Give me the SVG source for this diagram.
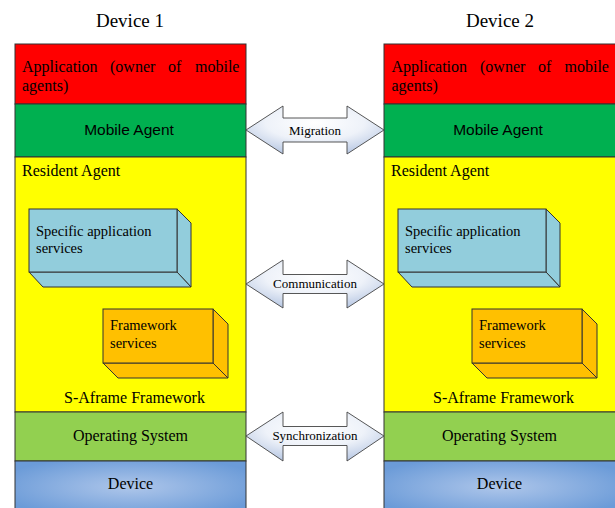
<svg xmlns="http://www.w3.org/2000/svg" width="615" height="508" viewBox="0 0 615 508">
<style>
.serif{font-family:"Liberation Serif","Times New Roman",serif;fill:#000}
.sans{font-family:"Liberation Sans",Arial,sans-serif;fill:#000}
.layer{stroke:#333;stroke-width:1}
.box{stroke:#333;stroke-width:1;stroke-linejoin:miter}
.arrow{fill:url(#arrowGrad);stroke:#444;stroke-width:0.9}
.t16{font-size:16px}
.t14{font-size:14.5px}
.t13{font-size:13px}
.title{font-size:19px}
</style>
<defs>
<radialGradient id="arrowGrad" cx="0.5" cy="0.35" r="0.65">
<stop offset="0" stop-color="#ffffff"/>
<stop offset="0.55" stop-color="#eef2f9"/>
<stop offset="1" stop-color="#bccbe5"/>
</radialGradient>
<radialGradient id="devGrad" cx="0.5" cy="0.5" r="0.6">
<stop offset="0" stop-color="#aec6ea"/>
<stop offset="1" stop-color="#6b9bd8"/>
</radialGradient>
</defs>
<rect width="615" height="508" fill="#fff"/>

<g id="device1">
<text class="serif title" x="130" y="27" text-anchor="middle">Device 1</text>
<g id="app1">
<rect class="layer" x="15" y="44" width="231" height="60" fill="#ff0000"/>
<text class="serif t16" y="72"><tspan x="22">Application</tspan><tspan x="110">(owner</tspan><tspan x="168">of</tspan><tspan x="195">mobile</tspan></text>
<text class="serif t16" x="22" y="91">agents)</text>
</g>
<g id="mobile1">
<rect class="layer" x="15" y="104" width="231" height="53" fill="#00b050"/>
<text class="sans" font-size="15.5" x="129" y="135" text-anchor="middle">Mobile Agent</text>
</g>
<g id="resident1">
<rect class="layer" x="15" y="157" width="231" height="255" fill="#ffff00"/>
<text class="serif t16" x="22" y="176">Resident Agent</text>
<text class="serif t16" x="134.5" y="403" text-anchor="middle">S-Aframe Framework</text>
</g>
<g id="specific1">
<polygon class="box" fill="#92cddc" points="177,209 191,223 191,287 177,272"/>
<polygon class="box" fill="#92cddc" points="29,272 177,272 191,287 43,287"/>
<rect class="box" x="29" y="209" width="148" height="63" fill="#92cddc"/>
<text class="serif t14" x="36" y="236">Specific application</text>
<text class="serif t14" x="36" y="253">services</text>
</g>
<g id="framework1">
<polygon class="box" fill="#ffc000" points="213,309 228,324 228,378 213,363"/>
<polygon class="box" fill="#ffc000" points="103,363 213,363 228,378 118,378"/>
<rect class="box" x="103" y="309" width="110" height="54" fill="#ffc000"/>
<text class="serif t14" x="110" y="330">Framework</text>
<text class="serif t14" x="110" y="348">services</text>
</g>
<g id="os1">
<rect class="layer" x="15" y="412" width="231" height="49" fill="#92d050"/>
<text class="serif t16" x="130.5" y="441" text-anchor="middle">Operating System</text>
</g>
<g id="hw1">
<rect class="layer" x="15" y="461" width="231" height="52" fill="url(#devGrad)"/>
<text class="serif t16" x="130.5" y="489" text-anchor="middle">Device</text>
</g>
</g>

<g id="device2" transform="translate(369,0)">
<text class="serif title" x="131" y="27" text-anchor="middle">Device 2</text>
<g id="app2">
<rect class="layer" x="15" y="44" width="233" height="60" fill="#ff0000"/>
<text class="serif t16" y="72"><tspan x="22.5">Application</tspan><tspan x="111">(owner</tspan><tspan x="169">of</tspan><tspan x="195.5">mobile</tspan></text>
<text class="serif t16" x="22.5" y="91">agents)</text>
</g>
<g id="mobile2">
<rect class="layer" x="15" y="104" width="233" height="53" fill="#00b050"/>
<text class="sans" font-size="15.5" x="129" y="135" text-anchor="middle">Mobile Agent</text>
</g>
<g id="resident2">
<rect class="layer" x="15" y="157" width="233" height="255" fill="#ffff00"/>
<text class="serif t16" x="22" y="176">Resident Agent</text>
<text class="serif t16" x="134.5" y="403" text-anchor="middle">S-Aframe Framework</text>
</g>
<g id="specific2">
<polygon class="box" fill="#92cddc" points="177,209 191,223 191,287 177,272"/>
<polygon class="box" fill="#92cddc" points="29,272 177,272 191,287 43,287"/>
<rect class="box" x="29" y="209" width="148" height="63" fill="#92cddc"/>
<text class="serif t14" x="36" y="236">Specific application</text>
<text class="serif t14" x="36" y="253">services</text>
</g>
<g id="framework2">
<polygon class="box" fill="#ffc000" points="213,309 228,324 228,378 213,363"/>
<polygon class="box" fill="#ffc000" points="103,363 213,363 228,378 118,378"/>
<rect class="box" x="103" y="309" width="110" height="54" fill="#ffc000"/>
<text class="serif t14" x="110" y="330">Framework</text>
<text class="serif t14" x="110" y="348">services</text>
</g>
<g id="os2">
<rect class="layer" x="15" y="412" width="233" height="49" fill="#92d050"/>
<text class="serif t16" x="130.5" y="441" text-anchor="middle">Operating System</text>
</g>
<g id="hw2">
<rect class="layer" x="15" y="461" width="233" height="52" fill="url(#devGrad)"/>
<text class="serif t16" x="130.5" y="489" text-anchor="middle">Device</text>
</g>
</g>

<g id="connectors">
<g id="migration">
<polygon class="arrow" points="246,130 283,106 283,118 347,118 347,106 384,130 347,154 347,142 283,142 283,154"/>
<text class="serif t13" x="315" y="135" text-anchor="middle">Migration</text>
</g>
<g id="communication">
<polygon class="arrow" points="246,284 283,260 283,274.5 347,274.5 347,260 384,284 347,308 347,293.5 283,293.5 283,308"/>
<text class="serif t13" x="315" y="288" text-anchor="middle">Communication</text>
</g>
<g id="synchronization">
<polygon class="arrow" points="246,436 283,412 283,426.5 347,426.5 347,412 384,436 347,461 347,445.5 283,445.5 283,461"/>
<text class="serif t13" x="315" y="440" text-anchor="middle">Synchronization</text>
</g>
</g>
</svg>
